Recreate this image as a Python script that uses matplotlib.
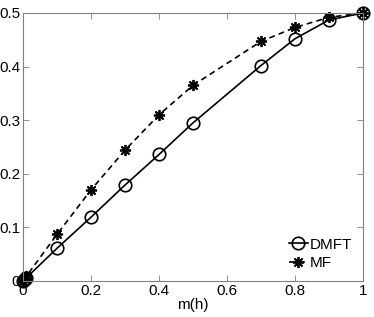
import matplotlib
matplotlib.use('Agg')
import matplotlib.pyplot as plt
from matplotlib.ticker import FixedLocator, FixedFormatter

plt.rcParams['font.family'] = ['Liberation Sans', 'DejaVu Sans']

m_vals = [0, 0.005, 0.01, 0.1, 0.2, 0.3, 0.4, 0.5, 0.7, 0.8, 0.9, 1.0]
dmft = [0, 0.003, 0.006, 0.061, 0.119, 0.179, 0.236, 0.295, 0.402, 0.452, 0.487, 0.5]
mf = [0, 0.004, 0.009, 0.087, 0.170, 0.244, 0.310, 0.365, 0.447, 0.473, 0.492, 0.5]

x_ticks = [0, 0.2, 0.4, 0.6, 0.8, 1]
x_labels = ['0', '0.2', '0.4', '0.6', '0.8', '1']
y_ticks = [0, 0.1, 0.2, 0.3, 0.4, 0.5]
y_labels = ['0', '0.1', '0.2', '0.3', '0.4', '0.5']

fig = plt.figure(figsize=(3.74, 3.17), dpi=100)
ax = fig.add_axes([0.0615, 0.1136, 0.9091, 0.8454])

ax.plot(m_vals, dmft, '-', color='black', lw=1.2, marker='o', markersize=9,
        markerfacecolor='none', markeredgewidth=1.2, label='DMFT', clip_on=False)
ax.plot(m_vals, mf, '--', color='black', lw=1.2, marker=(8, 2, 0), markersize=8,
        markeredgewidth=1.3, dashes=(3.5, 2.5), label='MF', clip_on=False)

ax.set_xlim(0, 1)
ax.set_ylim(0, 0.5)
ax.xaxis.set_major_locator(FixedLocator(x_ticks))
ax.xaxis.set_major_formatter(FixedFormatter(x_labels))
ax.yaxis.set_major_locator(FixedLocator(y_ticks))
ax.yaxis.set_major_formatter(FixedFormatter(y_labels))
ax.tick_params(direction='in', top=True, right=True, length=4, width=0.6,
               color='#808080', labelsize=11, pad=2)
for s in ax.spines.values():
    s.set_color('#808080')
    s.set_linewidth(0.8)

ax.set_xlabel('m(h)', fontsize=11, labelpad=0)

ax.legend(loc='lower right', frameon=False, fontsize=11, handlelength=1.3,
          handletextpad=0.1, labelspacing=0.3, borderaxespad=0.3)

fig.savefig('out.png', dpi=100)
